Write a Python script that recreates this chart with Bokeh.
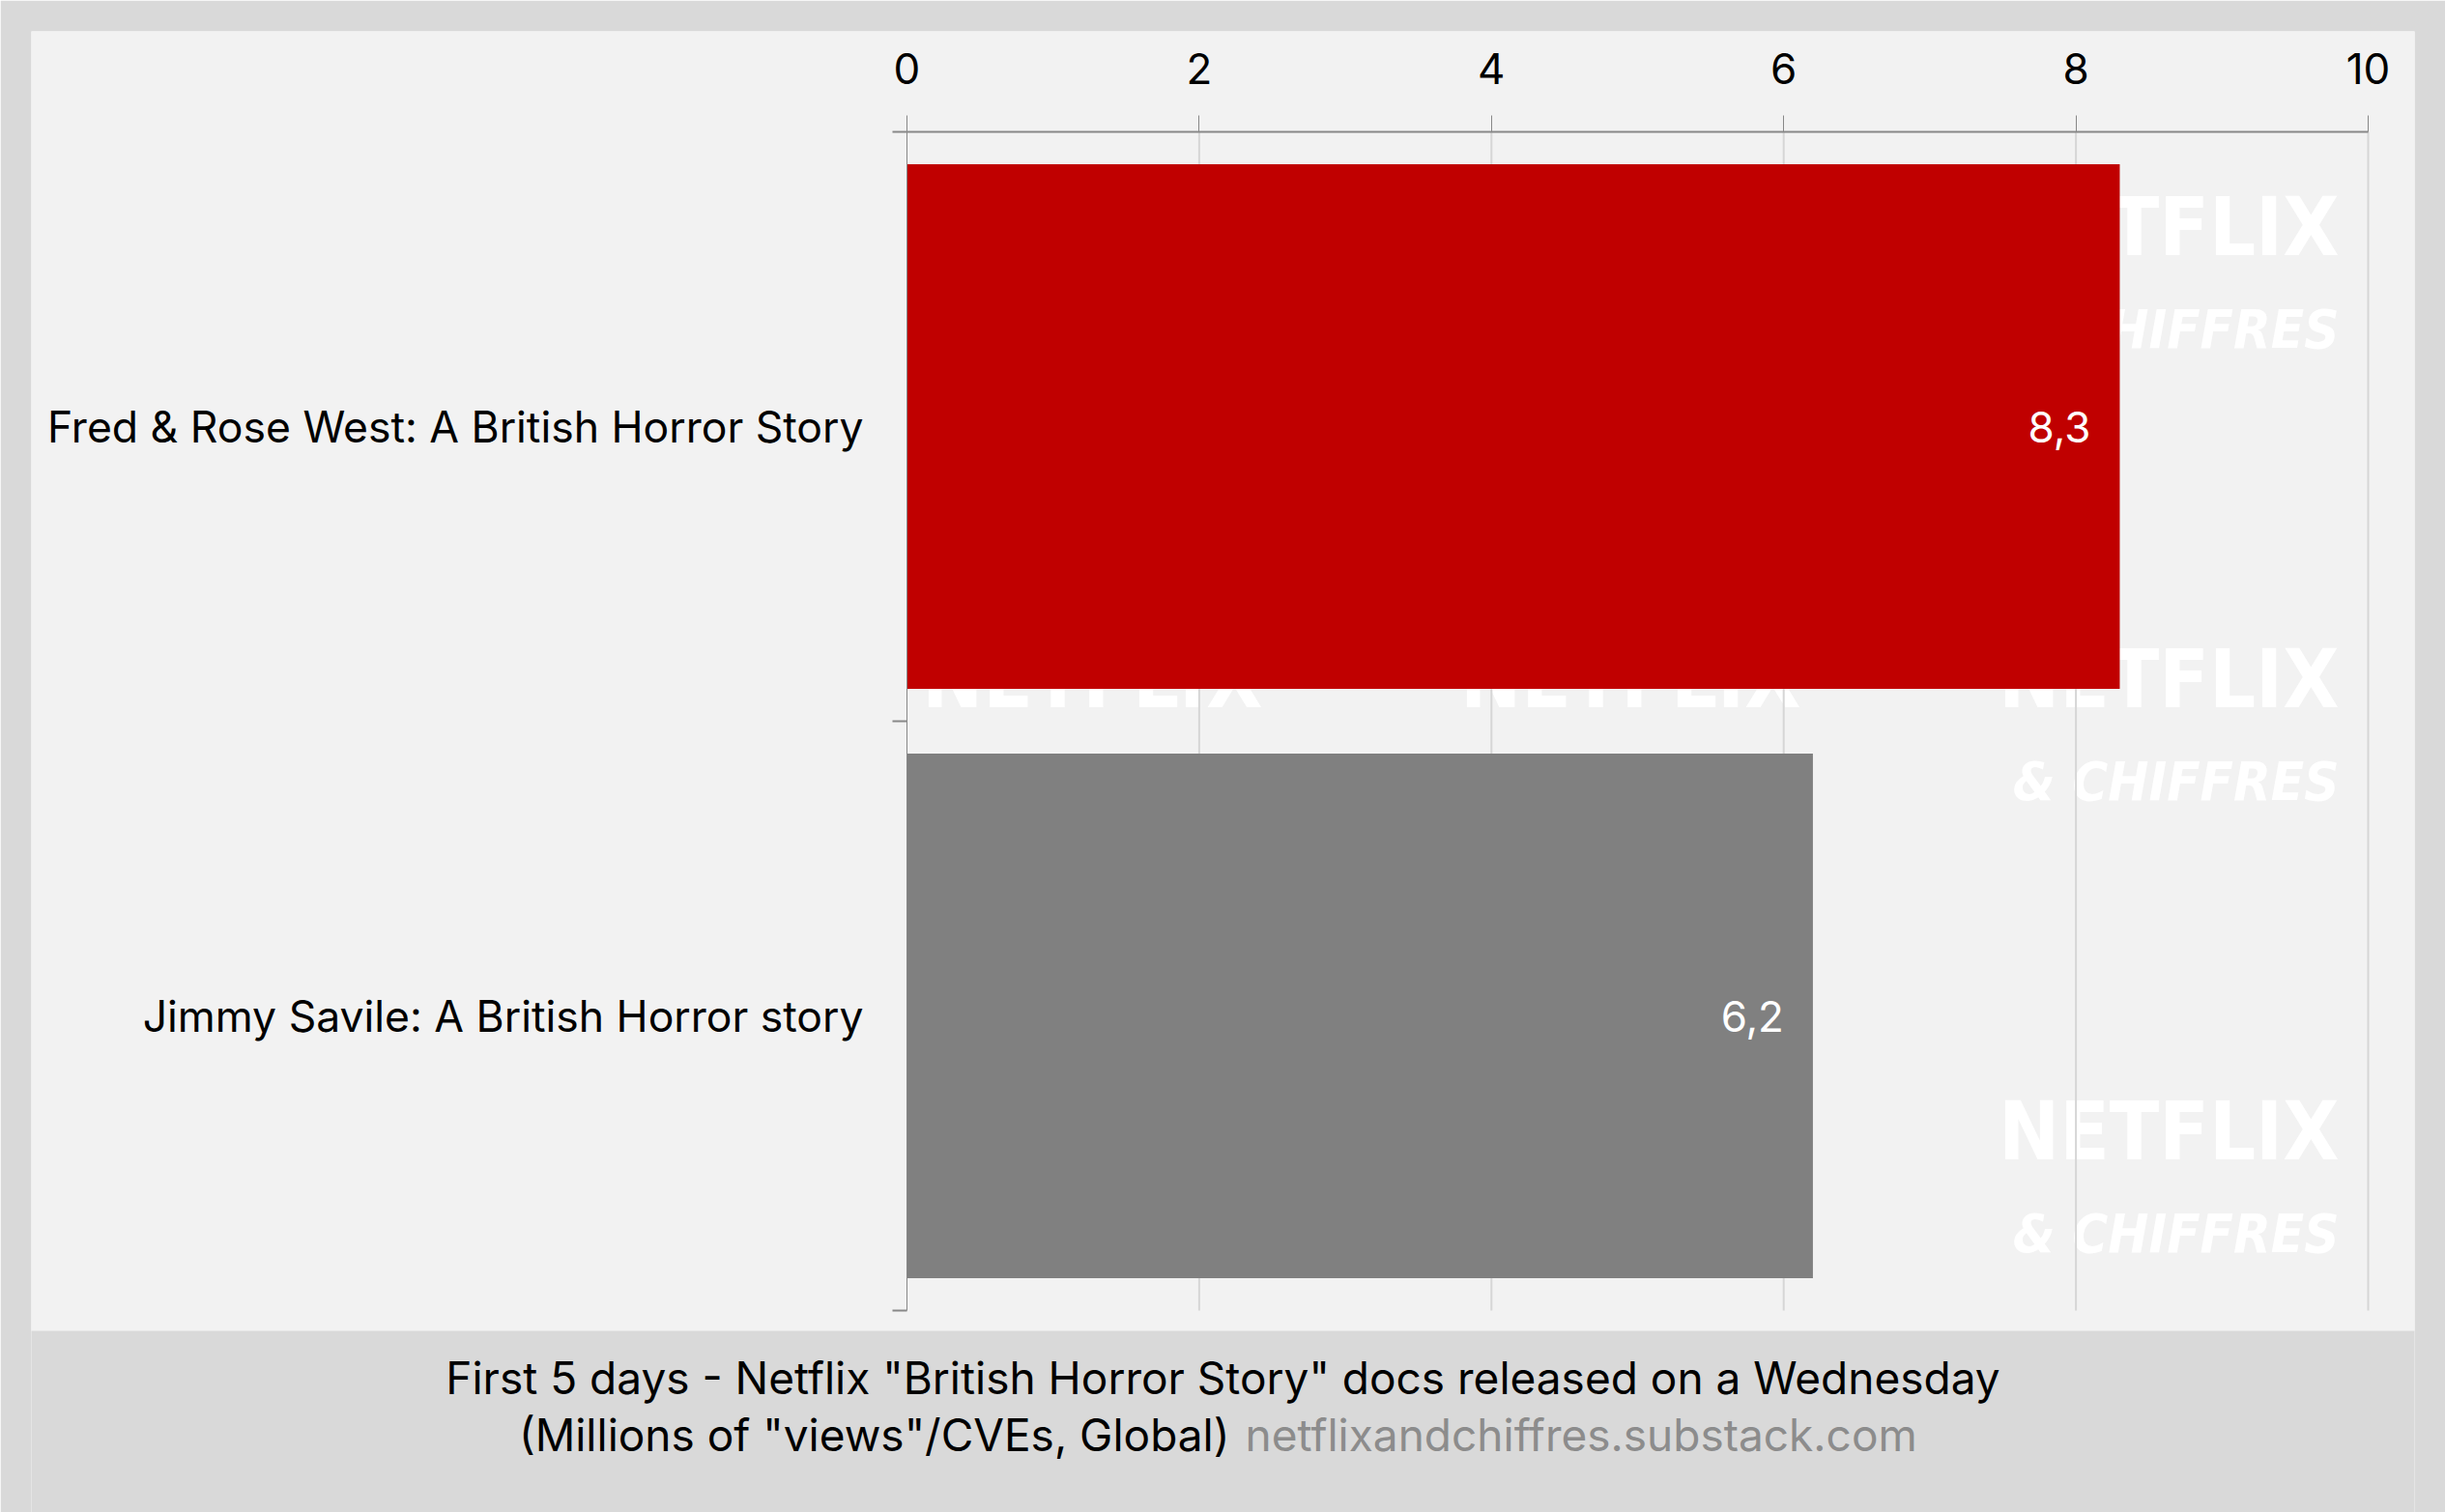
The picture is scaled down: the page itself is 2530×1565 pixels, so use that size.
from bokeh.plotting import figure
from bokeh.models import Range1d, FixedTicker, LinearAxis, ColumnDataSource
from bokeh.core.properties import value
from bokeh.embed import file_html
from bokeh.resources import INLINE

# ---- data ----
titles = ["Fred & Rose West: A British Horror Story", "Jimmy Savile: A British Horror story"]
views = [8.3, 6.2]
bar_colors = ["#c00000", "#808080"]
x_ticks = [0, 2, 4, 6, 8, 10]
caption_line1 = 'First 5 days - Netflix "British Horror Story" docs released on a Wednesday'
caption_line2 = '(Millions of "views"/CVEs, Global)'
caption_source = "netflixandchiffres.substack.com"
watermark_top = "NETFLIX"
watermark_bottom = "& CHIFFRES"

# ---- layout (reference page pixels; the page is rendered without an offset) ----
W, H = 2530, 1565
PANEL_L, PANEL_R, PANEL_T = 32, 2498, 32
FRAME_L, FRAME_R, FRAME_T, FRAME_B = 938, 2450, 136, 1356  # plotting area of the bars
n = len(titles)
X0, X1 = x_ticks[0], x_ticks[-1]
sx = (FRAME_R - FRAME_L) / (X1 - X0)
sy = (FRAME_B - FRAME_T) / n


def dx(px):
    return X0 + (px - FRAME_L) / sx


def dy(py):
    return n - (py - FRAME_T) / sy


FONT = "Inter"
GRAY_BG = "#d9d9d9"
PANEL = "#f2f2f2"
AXIS_GRAY = "#888888"

# the frame covers the light panel and the caption band under it
p = figure(width=W, height=H, output_backend="svg", toolbar_location=None,
           x_range=Range1d(dx(PANEL_L), dx(PANEL_R)),
           y_range=Range1d(dy(H), dy(PANEL_T)),
           x_axis_location=None, y_axis_location=None,
           min_border_left=PANEL_L, min_border_right=W - PANEL_R,
           min_border_top=PANEL_T, min_border_bottom=0)
p.outline_line_color = None
p.background_fill_color = PANEL
p.border_fill_color = GRAY_BG
p.grid.visible = False

# caption band (grey, under the panel)
p.quad(left=dx(0), right=dx(W + 50), top=dy(1377), bottom=dy(H + 50), fill_color=GRAY_BG, line_color=None)

# watermark (under the grid)
wm_x, wm_y = [], []
for j in range(3):
    for k in range(3):
        wm_x.append(dx(1306 + 557 * k))
        wm_y.append(dy(234 + 468 * j))
WM_FONT = value("'DejaVu Sans Condensed', Roboto, sans-serif")
p.text(x=wm_x, y=wm_y, text=[watermark_top] * len(wm_x), text_align="right", text_baseline="middle",
       text_color="white", text_font=WM_FONT, text_font_style="bold", text_font_size="84px")
p.text(x=wm_x, y=wm_y, y_offset=106, text=[watermark_bottom] * len(wm_x), text_align="right",
       text_baseline="middle", text_color="white", text_font=WM_FONT,
       text_font_style="bold italic", text_font_size="56px")

# vertical grid lines at the tick values
p.segment(x0=x_ticks[1:], y0=[0] * (len(x_ticks) - 1), x1=x_ticks[1:], y1=[n] * (len(x_ticks) - 1),
          line_color="#d6d6d6", line_width=2)

# bars
ypos = [n - i - 0.5 for i in range(n)]
src = ColumnDataSource(dict(
    y=ypos, views=views, color=bar_colors,
    label=[f"{v:.1f}".replace(".", ",") for v in views],
))
p.hbar(y="y", left=0, right="views", height=0.89, fill_color="color", line_color=None, source=src)
p.text(x="views", y="y", text="label", x_offset=-30, text_align="right", text_baseline="middle",
       text_color="white", text_font=value(FONT), text_font_size="44px", source=src)

# top axis
xa = LinearAxis(fixed_location=n, bounds=(X0, X1), ticker=FixedTicker(ticks=x_ticks))
xa.major_label_text_font = FONT
xa.major_label_text_font_size = "44px"
xa.major_label_text_color = "#000000"
xa.major_tick_out = 17
xa.major_tick_in = 0
xa.minor_tick_out = 0
xa.minor_tick_in = 0
xa.axis_line_color = AXIS_GRAY
xa.axis_line_width = 2
xa.major_tick_line_color = AXIS_GRAY
xa.major_tick_line_width = 1
xa.major_label_standoff = 33
p.add_layout(xa, "above")

# left axis: labels at category centres, ticks at category boundaries
ya = LinearAxis(fixed_location=X0, bounds=(0, n),
                ticker=FixedTicker(ticks=ypos, minor_ticks=list(range(n + 1))))
ya.major_label_overrides = {ypos[i]: titles[i] for i in range(n)}
ya.major_label_text_font = FONT
ya.major_label_text_font_size = "44.5px"
ya.major_label_text_color = "#000000"
ya.major_tick_out = 0
ya.major_tick_in = 0
ya.minor_tick_out = 15
ya.minor_tick_in = 0
ya.minor_tick_line_color = AXIS_GRAY
ya.minor_tick_line_width = 2
ya.axis_line_color = AXIS_GRAY
ya.axis_line_width = 1
ya.major_label_standoff = 30
p.add_layout(ya, "left")

# caption
p.text(x=[dx(1265)], y=[dy(1425)], text=[caption_line1], text_align="center", text_baseline="middle",
       text_font=value(FONT), text_font_size="46px", text_color="#000000")
p.text(x=[dx(1272)], y=[dy(1484)], text=[caption_line2], text_align="right", text_baseline="middle",
       text_font=value(FONT), text_font_size="46px", text_color="#000000")
p.text(x=[dx(1288)], y=[dy(1484)], text=[caption_source], text_align="left", text_baseline="middle",
       text_font=value(FONT), text_font_size="46px", text_color="#8c8c8c")

open("out.html", "w").write(file_html(p, INLINE))
